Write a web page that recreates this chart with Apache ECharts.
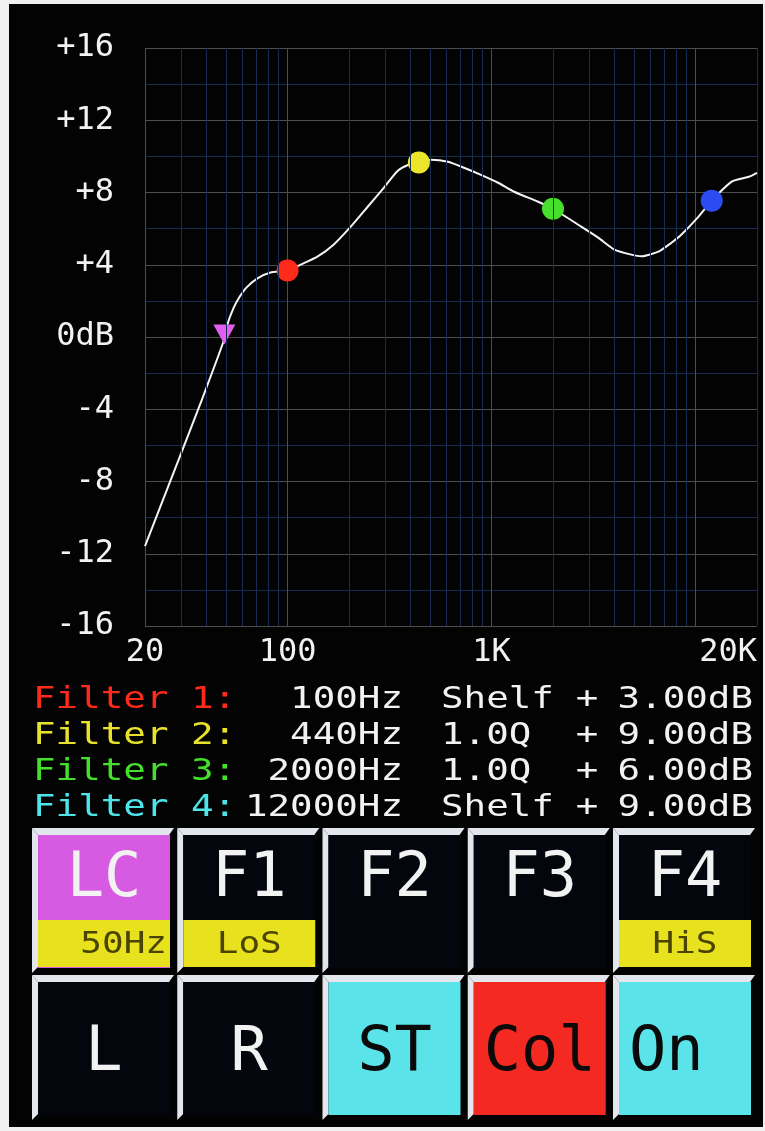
<!DOCTYPE html>
<html><head><meta charset="utf-8">
<script src="https://cdn.jsdelivr.net/npm/echarts@6/dist/echarts.min.js"></script>
<style>
html,body{margin:0;padding:0;background:#f0f0f0;overflow:hidden;}
#screen{position:absolute;left:9px;top:4px;width:754px;height:1123px;background:#030303;}
#chart{position:absolute;left:0;top:0;width:765px;height:1131px;}
</style></head><body><div id="screen"></div><div id="chart"></div>
<script>
// ---- data ----
const freqHz = [20, 29.8, 37.4, 48.5, 50.7, 54.3, 58, 63, 71.2, 82.5, 100, 116, 140, 168, 204, 247, 296, 347, 389, 440, 504, 611, 732, 887, 1076, 1290, 1690, 2000, 2750, 3330, 4000, 4840, 5430, 6580, 7620, 8530, 10340, 12000, 15050, 18240, 20000];
const gainDb = [-11.58, -6.55, -3.68, -0.25, 0.70, 1.60, 2.20, 2.75, 3.25, 3.57, 3.68, 4.01, 4.45, 5.11, 6.11, 7.21, 8.26, 9.20, 9.52, 9.68, 9.81, 9.70, 9.37, 8.98, 8.54, 8.04, 7.49, 7.10, 6.11, 5.50, 4.84, 4.56, 4.47, 4.73, 5.22, 5.67, 6.66, 7.55, 8.60, 8.87, 9.09];
const bandFreq = [100, 440, 2000, 12000];
const bandGain = [3.68, 9.66, 7.10, 7.55];
const bandColor = ['#ff2a1a', '#ece52a', '#46e02c', '#2b4cf2'];
const lowCutFreq = [49];
const lowCutGain = [0.14];
const xTickValues = [20, 100, 1000, 10000, 20000];
const xTickNames = ['20', '100', '1K', '', '20K'];
const minorFreqLines = [30, 40, 50, 60, 70, 80, 90, 200, 300, 400, 500, 600, 700, 800, 900, 2000, 3000, 4000, 5000, 6000, 7000, 8000, 9000];
const filterNames = ['Filter 1:', 'Filter 2:', 'Filter 3:', 'Filter 4:'];
const filterColors = ['#ff2a1a', '#e8e22c', '#44e02c', '#4ee4ea'];
const filterFreqText = ['100Hz', '440Hz', '2000Hz', '12000Hz'];
const filterTypeText = ['Shelf', '1.0Q', '1.0Q', 'Shelf'];
const filterGainText = ['3.00dB', '9.00dB', '6.00dB', '9.00dB'];
const buttonTop = ['LC', 'F1', 'F2', 'F3', 'F4'];
const buttonTopSub = ['50Hz', 'LoS', '', '', 'HiS'];
const buttonBottom = ['L', 'R', 'ST', 'Col', 'On '];

// ---- styles ----
const MONO = '"DejaVu Sans Mono", "Liberation Mono", monospace';
const GRID_MAJOR = '#4e4e4e';
const GRID_MINOR = '#182c52';
const topBg = ['#d75ae2', '#04060e', '#04060e', '#04060e', '#04060e'];
const bottomBg = ['#04060e', '#04060e', '#5ae4ea', '#f42a22', '#5ae4ea'];
const bottomFg = ['#f2f2f2', '#f2f2f2', '#0a0a0a', '#0a0a0a', '#0a0a0a'];
const subAlign = ['right', 'center', 'center', 'center', 'center'];

const graphics = [];
function txt(x, y, text, fill, size, align, sx) {
  graphics.push({
    type: 'text', x: x, y: y, scaleX: sx || 1, silent: true,
    style: { text: text, fill: fill, font: size + 'px ' + MONO,
      align: align, textAlign: align, verticalAlign: 'middle', textVerticalAlign: 'middle' }
  });
}
// filter text lines
filterNames.forEach((n, i) => {
  const y = 700 + i * 36;
  txt(33, y, n, filterColors[i], 30, 'left', 1.25);
  txt(403, y, filterFreqText[i], '#f2f2f2', 30, 'right', 1.25);
  txt(441, y, filterTypeText[i], '#f2f2f2', 30, 'left', 1.25);
  txt(587, y, '+', '#f2f2f2', 30, 'center', 1.25);
  txt(753, y, filterGainText[i], '#f2f2f2', 30, 'right', 1.25);
});
// buttons
const bevel = '#e4e6ee';
[0, 1].forEach(r => {
  for (let c = 0; c < 5; c++) {
    const L = 32 + c * 145.25, T = r === 0 ? 828 : 975;
    graphics.push({ type: 'polygon', silent: true, shape: { points: [[L, T], [L + 142, T], [L + 137, T + 7], [L + 6, T + 7]] }, style: { fill: bevel } });
    graphics.push({ type: 'polygon', silent: true, shape: { points: [[L, T], [L + 6, T + 7], [L + 6, T + 139], [L, T + 145]] }, style: { fill: bevel } });
    graphics.push({ type: 'rect', silent: true, shape: { x: L + 6, y: T + 7, width: 132, height: 133 }, style: { fill: r === 0 ? topBg[c] : bottomBg[c] } });
    if (r === 0) {
      if (buttonTopSub[c]) {
        graphics.push({ type: 'rect', silent: true, shape: { x: L + 6, y: T + 92, width: 132, height: 47 }, style: { fill: '#e8e21e' } });
        const sx = subAlign[c] === 'right' ? L + 135 : L + 72;
        txt(sx, T + 117, buttonTopSub[c], '#4a4400', 30, subAlign[c], 1.2);
      }
      txt(L + 72, T + 52, buttonTop[c], '#f2f2f2', 62, 'center', 1);
    } else {
      txt(L + 72, T + 79, buttonBottom[c], bottomFg[c], 62, 'center', 1);
    }
  }
});

const chart = echarts.init(document.getElementById('chart'), null, { renderer: 'canvas' });
chart.setOption({
  backgroundColor: 'transparent',
  animation: false,
  grid: { left: 145, right: 8, top: 48, bottom: 505, containLabel: false, outerBoundsMode: 'none' },
  xAxis: {
    type: 'log', logBase: 10, min: 20, max: 20000,
    axisLine: { show: false }, axisTick: { show: false },
    axisLabel: {
      color: '#f2f2f2', fontFamily: MONO, fontSize: 32, margin: 11,
      showMinLabel: true, showMaxLabel: true, alignMaxLabel: 'right', hideOverlap: false,
      formatter: v => { const i = xTickValues.findIndex(t => Math.abs(t - v) / t < 1e-4); return i >= 0 ? xTickNames[i] : ''; }
    },
    splitLine: { show: true, lineStyle: { color: [GRID_MAJOR, GRID_MAJOR, GRID_MAJOR, GRID_MAJOR, GRID_MINOR], width: 1 } }
  },
  yAxis: {
    type: 'value', min: -16, max: 16, interval: 4,
    axisLine: { show: false }, axisTick: { show: false },
    axisLabel: {
      color: '#f2f2f2', fontFamily: MONO, fontSize: 32, margin: 31,
      formatter: v => v > 0 ? '+' + v : (v === 0 ? '0dB' : '-' + Math.abs(v))
    },
    splitLine: { show: true, lineStyle: { color: GRID_MAJOR, width: 1 } },
    minorTick: { show: false, splitNumber: 2 },
    minorSplitLine: { show: true, lineStyle: { color: GRID_MINOR, width: 1 } }
  },
  series: [
    {
      type: 'line', z: 1, silent: true, showSymbol: false,
      data: freqHz.map((f, i) => [f, gainDb[i]]),
      lineStyle: { opacity: 0, width: 0 },
      markLine: {
        silent: true, symbol: ['none', 'none'], label: { show: false },
        lineStyle: { color: GRID_MINOR, width: 1, type: 'solid' },
        emphasis: { disabled: true },
        data: minorFreqLines.map(v => ({ xAxis: v }))
      }
    },
    {
      type: 'line', z: 3, silent: true, showSymbol: false, smooth: 0.2,
      data: freqHz.map((f, i) => [f, gainDb[i]]),
      lineStyle: { color: '#f4f4f4', width: 2 }
    },
    {
      type: 'scatter', z: 4, silent: true, symbol: 'circle', symbolSize: 22,
      data: bandFreq.map((f, i) => ({ value: [f, bandGain[i]], itemStyle: { color: bandColor[i], opacity: 1 } }))
    },
    {
      type: 'scatter', z: 4, silent: true, symbol: 'triangle', symbolRotate: 180, symbolSize: [22, 20],
      itemStyle: { color: '#e05ff0', opacity: 1 },
      data: lowCutFreq.map((f, i) => [f, lowCutGain[i]])
    }
  ],
  graphic: { elements: graphics }
});
</script></body></html>
